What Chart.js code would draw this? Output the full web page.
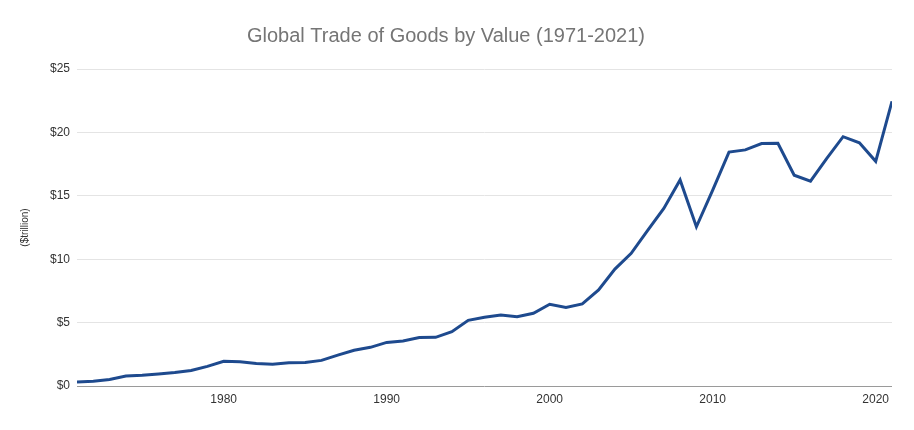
<!DOCTYPE html>
<html>
<head>
<meta charset="utf-8">
<script src="https://cdn.jsdelivr.net/npm/chart.js@4/dist/chart.umd.min.js"></script>
<style>
  html, body { margin: 0; padding: 0; background: #ffffff; }
  #wrap { width: 914px; height: 430px; position: relative; }
</style>
</head>
<body>
<div id="wrap"><canvas id="c" width="914" height="430"></canvas></div>
<script>
const years = [1971,1972,1973,1974,1975,1976,1977,1978,1979,1980,
               1981,1982,1983,1984,1985,1986,1987,1988,1989,1990,
               1991,1992,1993,1994,1995,1996,1997,1998,1999,2000,
               2001,2002,2003,2004,2005,2006,2007,2008,2009,2010,
               2011,2012,2013,2014,2015,2016,2017,2018,2019,2020,2021];
const tradeValue = [0.32,0.38,0.52,0.78,0.84,0.94,1.06,1.22,1.55,1.95,
                    1.92,1.78,1.72,1.84,1.86,2.02,2.44,2.82,3.05,3.44,
                    3.55,3.82,3.84,4.28,5.18,5.42,5.60,5.47,5.73,6.45,
                    6.20,6.47,7.57,9.22,10.46,12.25,14.0,16.25,12.56,15.45,
                    18.45,18.62,19.12,19.14,16.62,16.15,17.95,19.66,19.18,17.72,22.45];
const xTicks = [1980,1990,2000,2010,2020];
const yTicks = [0,5,10,15,20,25];
const chartTitle = 'Global Trade of Goods by Value (1971-2021)';
const yTitle = '($trillion)';

const points = years.map((y, i) => ({ x: y, y: tradeValue[i] }));

new Chart(document.getElementById('c'), {
  type: 'line',
  data: {
    datasets: [{
      data: points,
      borderColor: '#1e4a8e',
      borderWidth: 3,
      pointRadius: 0,
      tension: 0,
      fill: false
    }]
  },
  options: {
    responsive: false,
    animation: false,
    layout: { padding: { left: 0, right: 22, top: 0, bottom: 0 } },
    plugins: {
      legend: { display: false },
      tooltip: { enabled: false },
      title: {
        display: true,
        text: chartTitle,
        color: '#757575',
        font: { family: 'Liberation Sans, Arial, sans-serif', size: 20, weight: 'normal' },
        padding: { top: 24, bottom: 21 }
      }
    },
    scales: {
      x: {
        type: 'linear',
        min: 1971,
        max: 2021,
        afterBuildTicks: (axis) => { axis.ticks = xTicks.map(v => ({ value: v })); },
        afterFit: (axis) => { axis.height = 44; },
        grid: { display: false, drawTicks: false },
        border: { display: false },
        ticks: {
          padding: 6,
          maxRotation: 0,
          autoSkip: false,
          color: '#333333',
          font: { family: 'Liberation Sans, Arial, sans-serif', size: 12 },
          callback: (v) => String(v)
        }
      },
      y: {
        min: 0,
        max: 25,
        afterBuildTicks: (axis) => { axis.ticks = yTicks.map(v => ({ value: v })); },
        afterFit: (axis) => { axis.width = 77; },
        border: { display: false },
        grid: {
          drawTicks: false,
          color: (ctx) => (ctx.tick && ctx.tick.value === 0) ? '#9a9a9a' : '#e4e4e4',
          lineWidth: 1
        },
        ticks: {
          padding: 7,
          color: '#333333',
          font: { family: 'Liberation Sans, Arial, sans-serif', size: 12 },
          callback: (v) => '$' + v
        },
        title: {
          display: true,
          text: yTitle,
          color: '#333333',
          font: { family: 'Liberation Sans, Arial, sans-serif', size: 10 },
          padding: { top: 19, bottom: 0 }
        }
      }
    }
  }
});
</script>
</body>
</html>
